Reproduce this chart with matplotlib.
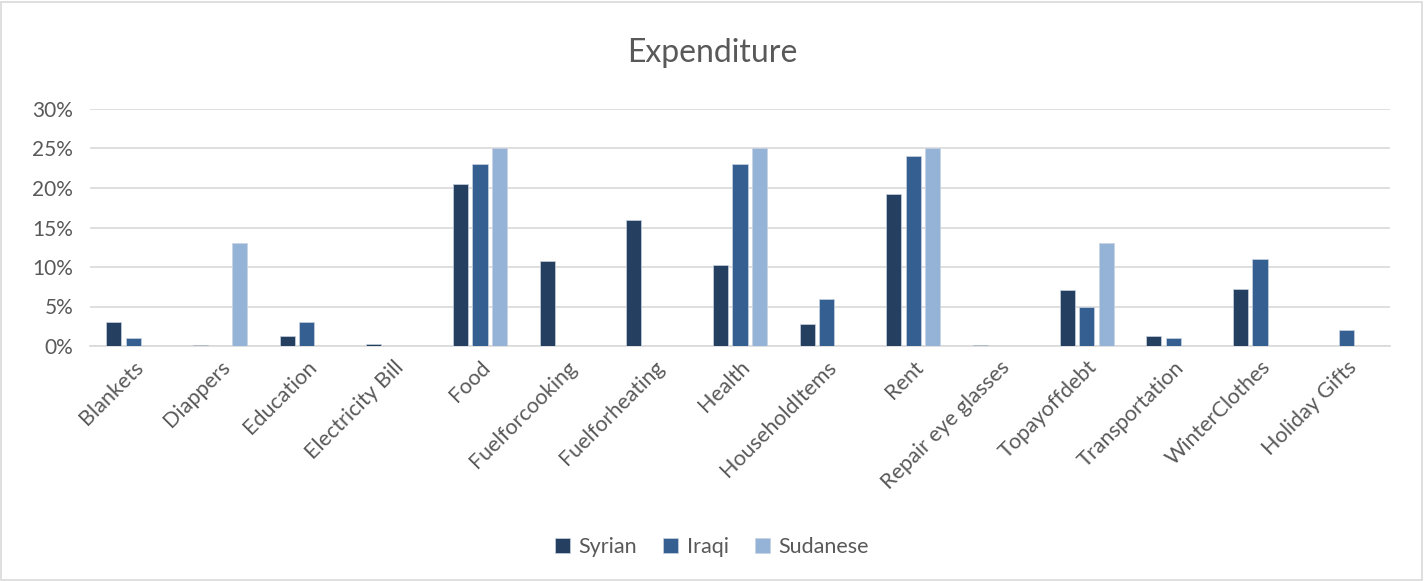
import numpy as np
import matplotlib.pyplot as plt
from matplotlib.ticker import PercentFormatter
from matplotlib.patches import Rectangle

categories = ["Blankets", "Diappers", "Education", "Electricity Bill", "Food",
              "Fuelforcooking", "Fuelforheating", "Health", "HouseholdItems", "Rent",
              "Repair eye glasses", "Topayoffdebt", "Transportation", "WinterClothes",
              "Holiday Gifts"]
syrian = [3.0, 0.1, 1.3, 0.2, 20.5, 10.7, 16.0, 10.3, 2.8, 19.3, 0.1, 7.1, 1.3, 7.2, 0.0]
iraqi = [1.0, 0.0, 3.0, 0.0, 23.0, 0.0, 0.0, 23.0, 6.0, 24.0, 0.0, 5.0, 1.0, 11.0, 2.0]
sudanese = [0.0, 13.0, 0.0, 0.0, 25.0, 0.0, 0.0, 25.0, 0.0, 25.0, 0.0, 13.0, 0.0, 0.0, 0.0]

series = [("Syrian", syrian, "#243f60"),
          ("Iraqi", iraqi, "#365f91"),
          ("Sudanese", sudanese, "#95b3d7")]

plt.rcParams['font.family'] = ['Lato', 'DejaVu Sans']
text_color = "#595959"

fig = plt.figure(figsize=(14.24, 5.81), dpi=100)
ax = fig.add_axes([90 / 1424, 1 - 346 / 581, 1300 / 1424, 237 / 581])

x = np.arange(len(categories))
width = 0.175
step = 0.225
for i, (name, vals, color) in enumerate(series):
    ax.bar(x + (i - 1) * step, vals, width, color=color, label=name,
           edgecolor="#c8d2e0", linewidth=0.5, zorder=3)

ax.set_xlim(-0.5, len(categories) - 0.5)
ax.set_ylim(0, 30)
ax.set_yticks(np.arange(0, 31, 5))
ax.yaxis.set_major_formatter(PercentFormatter(decimals=0))
ax.grid(axis="y", color="#d9d9d9", linewidth=1.2, zorder=0)
for s in ["top", "right", "left"]:
    ax.spines[s].set_visible(False)
ax.spines["bottom"].set_color("#d9d9d9")
ax.spines["bottom"].set_linewidth(1.2)
ax.tick_params(axis="y", length=0, labelsize=15, colors=text_color, pad=12)
ax.tick_params(axis="x", length=0, labelsize=15.5, colors=text_color, pad=8)
ax.set_xticks(x)
ax.set_xticklabels(categories, rotation=45, ha="right", rotation_mode="anchor")

fig.text(0.5, 1 - 53 / 581, "Expenditure", ha="center", va="center",
         fontsize=23, color=text_color)

fig.legend(loc="center", bbox_to_anchor=(0.5, 1 - 547 / 581), ncol=3, frameon=False,
           fontsize=15.5, handlelength=0.7, handleheight=0.7, columnspacing=1.2,
           handletextpad=0.4, labelcolor=text_color)

fig.patches.append(Rectangle((1 / 1424, 1 / 581), 1 - 3 / 1424, 1 - 3 / 581,
                             transform=fig.transFigure, fill=False,
                             edgecolor="#d9d9d9", linewidth=1.2))

fig.savefig("out.png", dpi=100)
